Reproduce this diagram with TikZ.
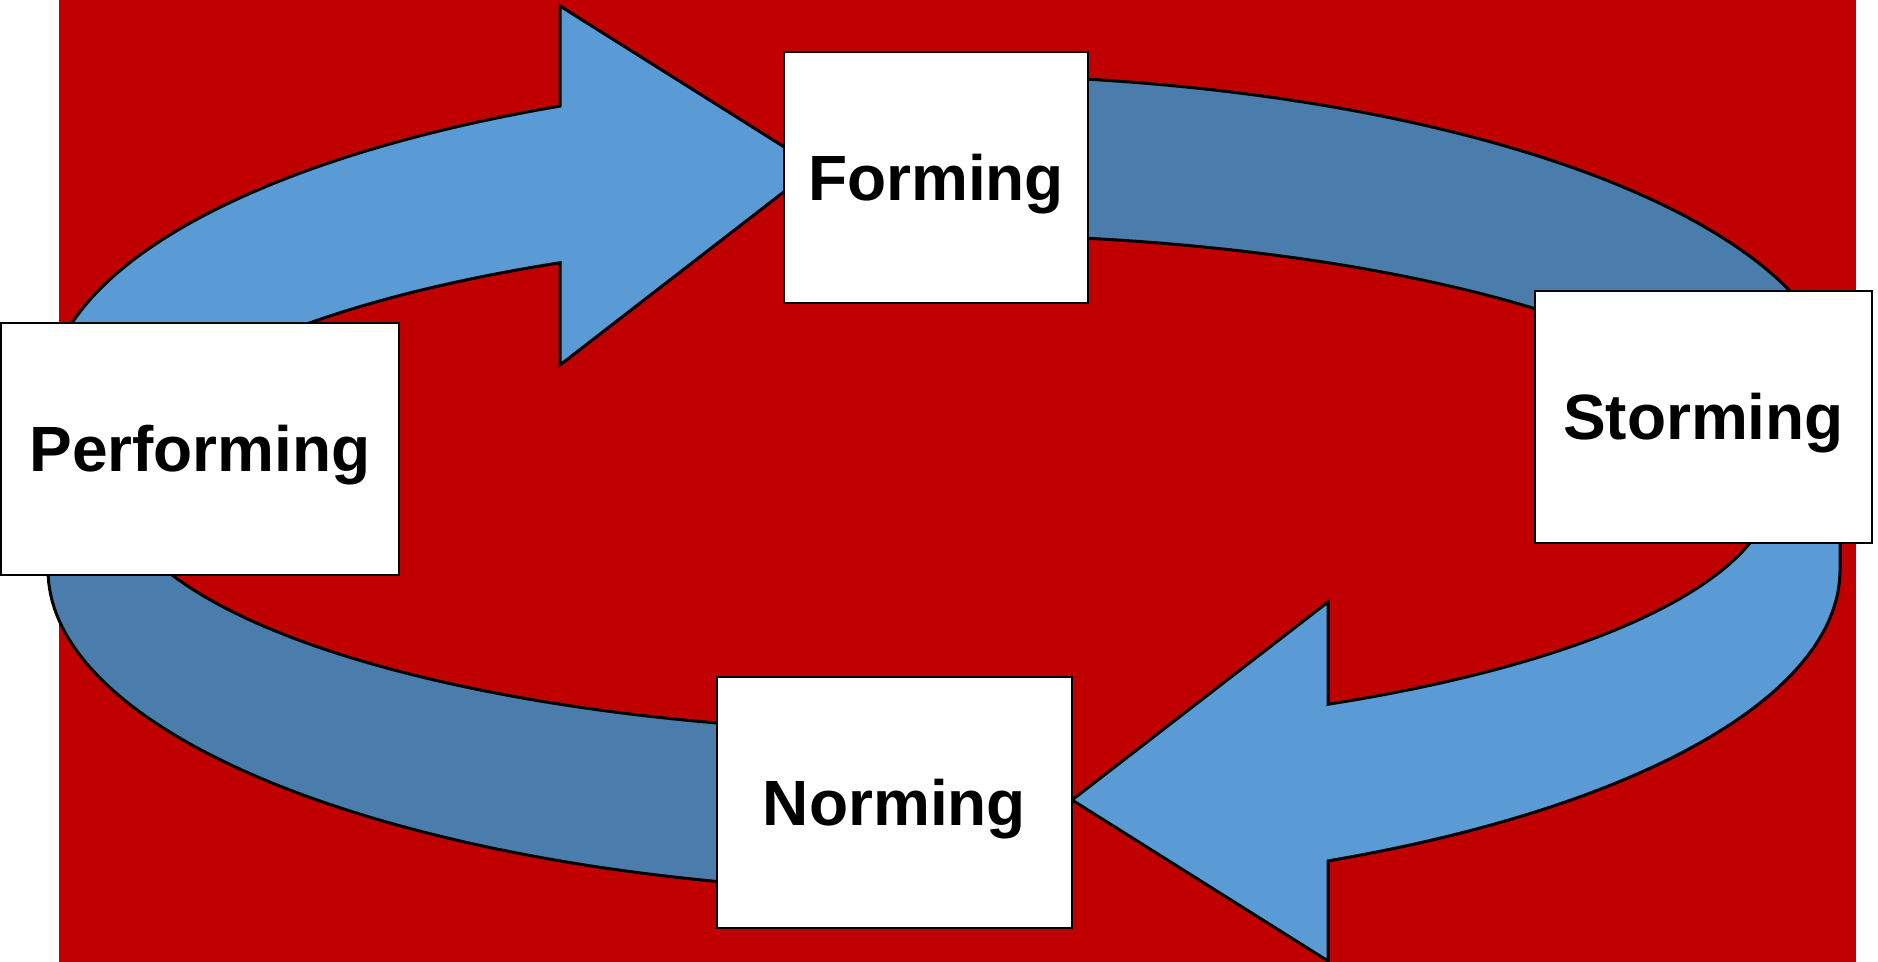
\documentclass[tikz,border=0pt]{standalone}
\usepackage{fontspec}
\setmainfont{Liberation Sans}
\definecolor{bgred}{HTML}{C00000}
\definecolor{lightblue}{HTML}{5B9BD5}
\definecolor{darkblue}{HTML}{4A7DAB}
\begin{document}
\begin{tikzpicture}[x=0.5pt,y=-0.5pt,
  bandshape/.style={draw=black, line width=1.5pt, line join=miter},
  stagebox/.style={draw=black, fill=white, line width=1.4pt, rectangle,
    inner sep=0pt, text height=22.9pt, text depth=0pt,
    font=\fontsize{32}{38}\selectfont\bfseries}]
\useasboundingbox (0,0) rectangle (1878,962);
\fill[white] (0,0) rectangle (1878,962);
\fill[bgred] (59,0) rectangle (1856,962);

% dark band, upper right (Forming -> Storming)
\path[bandshape, fill=darkblue]
  plot[domain=270.38:360, samples=80] ({944+896*cos(\x)},{397+322*sin(\x)})
  -- (1840,450)
  -- plot[domain=352.27:270.41, samples=80] ({944+830*cos(\x)},{483.5+249*sin(\x)})
  -- cycle;

% dark band, lower left (Norming -> Performing)
\path[bandshape, fill=darkblue]
  plot[domain=90.38:180, samples=80] ({944+896*cos(\x)},{570+322*sin(\x)})
  -- (48,517)
  -- plot[domain=172.27:90.41, samples=80] ({944+830*cos(\x)},{483.5+249*sin(\x)})
  -- cycle;

% light arrow, upper left (Performing -> Forming)
\path[bandshape, fill=lightblue]
  (48,487) -- (48,397)
  -- plot[domain=180:244.62, samples=80] ({944+896*cos(\x)},{397+322*sin(\x)})
  -- (560,106) -- (560,6) -- (816,167) -- (560,365) -- (560,263)
  -- plot[domain=242.44:179.2, samples=80] ({944+830*cos(\x)},{483.5+249*sin(\x)})
  -- cycle;

% light arrow, lower right (Storming -> Norming)
\path[bandshape, fill=lightblue]
  (1840,480) -- (1840,570)
  -- plot[domain=0:64.62, samples=80] ({944+896*cos(\x)},{570+322*sin(\x)})
  -- (1328,861) -- (1328,961) -- (1072,800) -- (1328,602) -- (1328,704)
  -- plot[domain=62.44:-0.8, samples=80] ({944+830*cos(\x)},{483.5+249*sin(\x)})
  -- cycle;

% stage boxes
\node[stagebox, minimum width=152pt, minimum height=125.5pt] (forming) at (936,177.5) {Forming};
\node[stagebox, minimum width=168.5pt, minimum height=126pt] (storming) at (1703.5,417) {Storming};
\node[stagebox, minimum width=199pt, minimum height=126pt] (performing) at (200,449) {Performing};
\node[stagebox, minimum width=177.5pt, minimum height=125.5pt] (norming) at (894.5,802.5) {Norming};
\end{tikzpicture}
\end{document}
